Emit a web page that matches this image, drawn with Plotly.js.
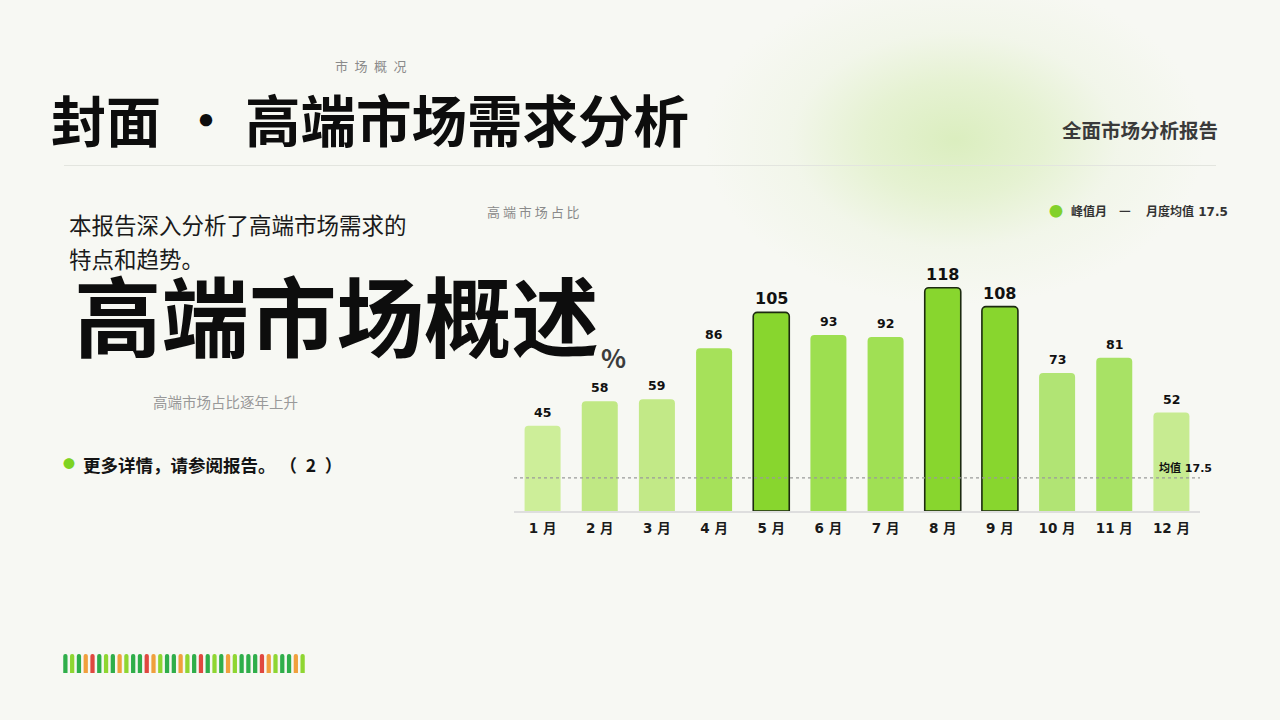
<!DOCTYPE html>
<html><head><meta charset="utf-8">
<script src="https://cdn.plot.ly/plotly-3.0.1.min.js"></script>
<style>
html,body{margin:0;padding:0;width:1280px;height:720px;overflow:hidden;
background:#f7f8f3;}
#bg{position:absolute;left:0;top:0;width:1280px;height:720px;
background:radial-gradient(ellipse 250px 165px at 955px 140px, rgba(214,236,182,0.85) 0%, rgba(222,239,196,0.7) 35%, rgba(235,243,222,0.45) 65%, rgba(247,248,243,0) 100%);}
#chart{position:absolute;left:0;top:0;width:1280px;height:720px;}
</style></head>
<body><div id="bg"></div><div id="chart"></div>
<script>
// ---- data ----
const months = ['1 月','2 月','3 月','4 月','5 月','6 月','7 月','8 月','9 月','10 月','11 月','12 月'];
const values = [45, 58, 59, 86, 105, 93, 92, 118, 108, 73, 81, 52];
const peakMonths = ['5 月','8 月','9 月'];
const barColors = ['#cdee99','#c0e884','#c2e987','#a6e15a','#88d62e','#9ddf50','#a0e054','#88d62e','#88d62e','#b1e474','#a8e265','#c7eb91'];
const avgValue = 17.5;
const stripColors = ['#2fae4a','#8fd631','#2fae4a','#f0a03c','#e0483f','#2fae4a','#8fd631','#2fae4a','#f0a03c','#8fd631','#2fae4a','#2fae4a',
  '#e0483f','#f0a03c','#8fd631','#2fae4a','#2fae4a','#f0a03c','#8fd631','#2fae4a','#e0483f','#2fae4a','#8fd631','#2fae4a',
  '#f0a03c','#8fd631','#2fae4a','#2fae4a','#2fae4a','#e0483f','#f0a03c','#8fd631','#2fae4a','#2fae4a','#f0a03c','#8fd631'];
const stripIdx = stripColors.map((c,i)=>i);
const stripVals = stripColors.map(()=>1);

const F = '"Noto Sans CJK SC","Noto Sans",sans-serif';
const FD = '"DejaVu Sans","Noto Sans CJK SC",sans-serif';
const W = 1280, H = 720;
const px = x => x / W, py = y => 1 - y / H;

const isPeak = months.map(m => peakMonths.includes(m));

const traces = [
  {type:'bar', x: months, y: values, xaxis:'x', yaxis:'y',
   marker:{color: barColors, cornerradius: 4,
     line:{color: isPeak.map(p=>p?'#1c2a10':'rgba(0,0,0,0)'), width: isPeak.map(p=>p?1.6:0)}},
   hoverinfo:'none', showlegend:false},
  {type:'scatter', mode:'lines', x: [-0.5, 11.5], y: [avgValue, avgValue], xaxis:'x3', yaxis:'y',
   line:{color:'#9a9a9a', width:1.3, dash:'dot'}, hoverinfo:'none', showlegend:false},
  {type:'bar', x: stripIdx, y: stripVals, xaxis:'x2', yaxis:'y2',
   marker:{color: stripColors, cornerradius: '50%'}, hoverinfo:'none', showlegend:false}
];

const annotations = [];
function T(text, x, y, size, color, opts={}) {
  annotations.push(Object.assign({text, x: px(x), y: py(y), xref:'paper', yref:'paper',
    showarrow:false, xanchor:'left', yanchor:'middle',
    font:{family: opts.family || F, size, color, weight: opts.weight || 400}}, opts.extra || {}));
}
// value labels from data
months.forEach((m,i)=>{
  annotations.push({x: m, y: values[i], xref:'x', yref:'y', text: String(values[i]),
    showarrow:false, yanchor:'bottom', yshift: isPeak[i]?2:4,
    font:{family:FD, size: isPeak[i]?16:12.5, color:'#111', weight:700}});
});
annotations.push({x: 11.5, y: avgValue, xref:'x3', yref:'y', text:'均值 17.5', showarrow:false,
  xanchor:'right', yanchor:'bottom', yshift:1, xshift:14,
  font:{family:FD, size:11, color:'#111', weight:700}});

T('市\u2002场\u2002概\u2002况', 333, 65, 13, '#8a8a8a');
T('封面', 49, 118, 55, '#0d0d0d', {weight:700});
T('·', 206, 117, 48, '#0d0d0d', {weight:700, extra:{xanchor:'center'}});
T('高端市场需求分析', 243, 118, 55.5, '#0d0d0d', {weight:700});
T('全面市场分析报告', 1220, 129, 19.5, '#3a3a3a', {weight:700, extra:{xanchor:'right'}});
T('本报告深入分析了高端市场需求的', 67, 224, 22.5, '#1a1a1a');
T('特点和趋势。', 67, 258, 22.5, '#1a1a1a');
T('高端市场概述', 72, 312, 87.5, '#0d0d0d', {weight:700});
T('%', 599, 356, 26, '#3c3c3c', {weight:700});
T('高 端 市 场 占 比', 485, 211, 13, '#8a8a8a');
T('高端市场占比逐年上升', 151, 401, 14.5, '#999999');
T('●', 61, 463, 12, '#7ed321');
T('更多详情，请参阅报告。 （\u20022\u2002）', 81, 464, 17.5, '#141414', {weight:700});
// legend
T('●', 1047, 210, 14, '#82d12a');
T('峰值月', 1069, 211, 12, '#333333', {weight:700, family:FD});
T('—', 1117, 209, 13, '#333333', {weight:700});
T('月度均值 17.5', 1144, 211, 12, '#333333', {weight:700, family:FD});

const shapes = [
  {type:'line', xref:'paper', yref:'paper', x0:px(64), x1:px(1216), y0:py(165.5), y1:py(165.5),
   line:{color:'#e3e5df', width:1.2}}
];

const layout = {
  width: W, height: H, margin:{l:0,r:0,t:0,b:0},
  paper_bgcolor:'rgba(0,0,0,0)', plot_bgcolor:'rgba(0,0,0,0)',
  showlegend:false, bargap: 0.37,
  xaxis:{domain:[px(514), px(1200)], type:'category', showgrid:false, zeroline:false,
    showline:true, linecolor:'#dedede', linewidth:2, ticks:'', ticklen:0, ticklabelstandoff:4,
    tickfont:{family:FD, size:13.5, color:'#1a1a1a', weight:700}, fixedrange:true},
  xaxis3:{domain:[px(514), px(1200)], range:[-0.5, 11.5], overlaying:'x', visible:false, fixedrange:true},
  yaxis:{domain:[py(511), py(260)], range:[0, (511-260)/1.892], visible:false, fixedrange:true},
  xaxis2:{domain:[px(62), px(306)], range:[-0.5, 35.5], visible:false, fixedrange:true},
  yaxis2:{domain:[py(673), py(654)], range:[0,1], visible:false, fixedrange:true},
  annotations, shapes
};
Plotly.newPlot('chart', traces, layout, {displayModeBar:false, staticPlot:true});
</script></body></html>
